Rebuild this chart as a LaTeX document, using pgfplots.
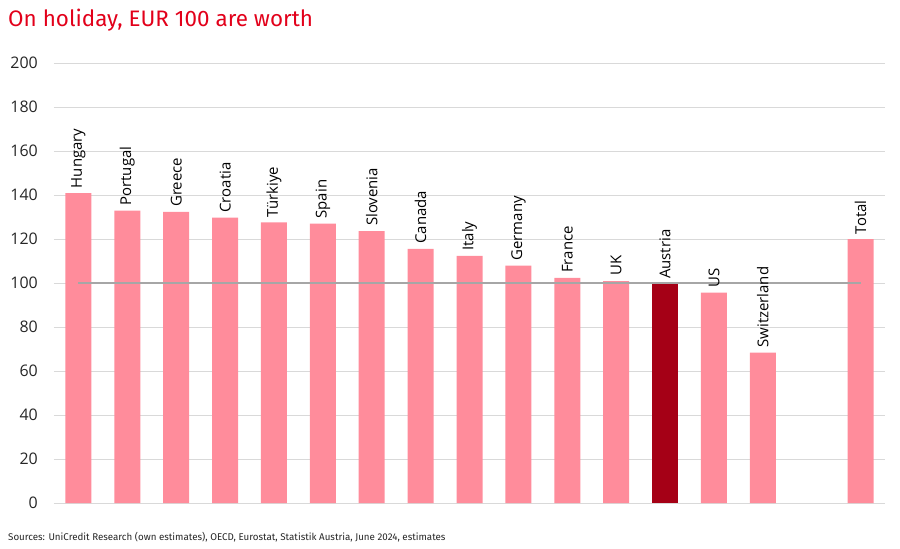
\documentclass[border=0pt]{standalone}
\usepackage{fontspec}
\setmainfont{Open Sans}
\newfontfamily\titlefont{Fira Sans}
\usepackage{pgfplots}
\pgfplotsset{compat=1.18}
\usepackage{pgfplotstable}

\definecolor{ucred}{HTML}{E2001A}
\definecolor{barpink}{HTML}{FF8C9B}
\definecolor{bardark}{HTML}{A50016}
\definecolor{gridgray}{HTML}{D9D9D9}
\definecolor{refgray}{HTML}{A6A6A6}

% position, value, label
\pgfplotstableread{
x y label
0 140.8 Hungary
1 132.9 Portugal
2 132.3 Greece
3 129.7 Croatia
4 127.6 Türkiye
5 127.0 Spain
6 123.6 Slovenia
7 115.5 Canada
8 112.3 Italy
9 107.9 Germany
10 102.3 France
11 100.9 UK
13 95.6 US
14 68.3 Switzerland
16 119.9 Total
}\pinkbars

\pgfplotstableread{
x y label
12 99.5 Austria
}\austria

\begin{document}
\begin{tikzpicture}
\useasboundingbox (-54bp,-46bp) rectangle (846bp,503bp);
\begin{axis}[
    at={(0,0)}, anchor=south west,
    scale only axis,
    width=831bp, height=440bp,
    xmin=-0.5, xmax=16.5,
    ymin=0, ymax=200,
    ytick={0,20,...,200},
    xtick=\empty,
    axis line style={draw=none},
    ymajorgrids,
    grid style={gridgray, line width=0.8bp},
    major tick length=0pt,
    yticklabel style={font=\fontsize{16}{18}\selectfont, text=black!85, anchor=east, inner sep=0pt, xshift=-16bp},
    /pgf/number format/assume math mode=true,
    ybar, bar width=26bp, bar shift=0pt,
    clip=false,
    nodes near coords={\pgfplotspointmeta},
    point meta=explicit symbolic,
    every node near coord/.append style={rotate=90, anchor=west, inner xsep=5bp, inner ysep=0pt,
        font=\fontsize{15}{17}\selectfont, text=black},
]
\addplot[fill=barpink, draw=none] table[x=x, y=y, meta=label] {\pinkbars};
\addplot[fill=bardark, draw=none] table[x=x, y=y, meta=label] {\austria};
\addplot[sharp plot, refgray, line width=1.6bp, nodes near coords={}] coordinates {(0,100) (16,100)};
\end{axis}
\node[anchor=base west, inner sep=0pt, text=ucred, font=\titlefont\fontsize{22.5}{26}\selectfont] at (-46bp,476bp) {On holiday, EUR 100 are worth};
\node[anchor=base west, inner sep=0pt, text=black!85, font=\titlefont\fontsize{9.8}{12}\selectfont] at (-46bp,-37bp) {Sources: UniCredit Research (own estimates), OECD, Eurostat, Statistik Austria, June 2024, estimates};
\end{tikzpicture}
\end{document}
